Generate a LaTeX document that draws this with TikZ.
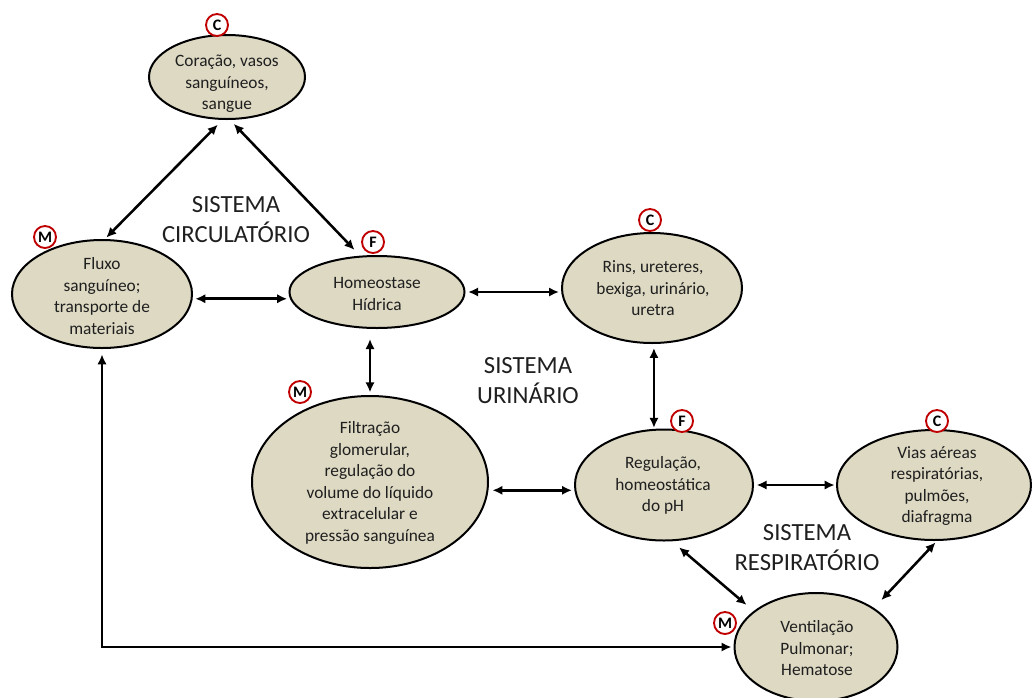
\documentclass[tikz,border=0pt]{standalone}
\usepackage{fontspec}
\setmainfont{Carlito}
\usetikzlibrary{arrows.meta,shapes.geometric}
\definecolor{organ}{HTML}{DDD9C3}
\definecolor{badgered}{HTML}{C00000}
\definecolor{ink}{HTML}{1F1F1F}

\begin{document}
\begin{tikzpicture}[x=0.75pt,y=-0.75pt,
  blob/.style 2 args={ellipse, draw=black, line width=1.5pt, fill=organ, inner sep=0pt,
    minimum width=#1*0.75pt, minimum height=#2*0.75pt},
  lbl/.style={align=center, inner sep=0pt, text=ink, font=\fontsize{13}{16.1}\selectfont},
  sys/.style={align=center, inner sep=0pt, text=ink, font=\fontsize{18.5}{22.5}\selectfont},
  badge/.style={circle, draw=badgered, line width=1.4pt, fill=white, minimum size=16.5pt,
    inner sep=0pt, font=\bfseries\fontsize{12}{12}\selectfont},
  link/.style={{Latex[length=7.5pt,width=7pt]}-{Latex[length=7.5pt,width=7pt]}, line width=1.9pt},
]
\useasboundingbox (0,0) rectangle (1032,697);

% organs / processes
\node[blob={156}{84}]  (cor)   at (227,77)  {};
\node[blob={180}{108}] (flux)  at (102,294) {};
\node[blob={175}{72}]  (homeo) at (377,292) {};
\node[blob={180}{110}] (rins)  at (652,288) {};
\node[blob={236}{172}] (filt)  at (370,482) {};
\node[blob={178}{111}] (reg)   at (664,485) {};
\node[blob={194}{110}] (vias)  at (934,485) {};
\node[blob={163}{108}] (vent)  at (816,647) {};

% texts inside the ellipses
\node[lbl] (corT)   at (227,84)  {Coração, vasos\\sanguíneos,\\sangue};
\node[lbl] (fluxT)  at (102,296) {Fluxo\\sanguíneo;\\transporte de\\materiais};
\node[lbl] (homeoT) at (377,294) {Homeostase\\Hídrica};
\node[lbl] (rinsT)  at (653,288.5) {Rins, ureteres,\\bexiga, urinário,\\uretra};
\node[lbl] (filtT)  at (370,483) {Filtração\\glomerular,\\regulação do\\volume do líquido\\extracelular e\\pressão sanguínea};
\node[lbl] (regT)   at (663,485.5) {Regulação,\\homeostática\\do pH};
\node[lbl] (viasT)  at (937,486) {Vias aéreas\\respiratórias,\\pulmões,\\diafragma};
\node[lbl] (ventT)  at (817,648.5) {Ventilação\\Pulmonar;\\Hematose};

% system names
\node[sys] (sc) at (236,220)   {SISTEMA\\CIRCULATÓRIO};
\node[sys] (su) at (528,380.5) {SISTEMA\\URINÁRIO};
\node[sys] (sr) at (807,547.5) {SISTEMA\\RESPIRATÓRIO};

% connectors
\draw[link, shorten <=5pt, shorten >=1.5pt] (cor.264) -- (flux.87);
\draw[link, shorten <=4pt, shorten >=6pt] (cor.274) -- (homeo.115);
\draw[link, shorten <=2pt, shorten >=1pt] (flux.-3) -- (flux.-3 -| homeo.west);
\draw[link, shorten <=2pt, shorten >=1.5pt] (homeo.east) -- (homeo.east -| rins.west);
\draw[link, shorten <=7.5pt, shorten >=2pt] (homeo.south -| filt.north) -- (filt.north);
\draw[link, shorten <=3pt, shorten >=0.5pt] (rins.-88) -- (rins.-88 |- reg.north);
\draw[link, shorten <=3pt, shorten >=1.5pt] (filt.-4) -- (filt.-4 -| reg.west);
\draw[link, shorten <=2pt, shorten >=1pt] (reg.east) -- (reg.east -| vias.west);
\draw[link, shorten <=7pt, shorten >=7pt] (reg.278) -- (vent.150);
\draw[link, shorten <=1.5pt, shorten >=8pt] (vias.273) -- (vent.34);
\draw[link, shorten <=4pt, shorten >=1.5pt] (flux.south) |- (vent.west);

% badges: C = component, F = function, M = mechanism
\node[badge] (bcor)   at (217,25)  {C};
\node[badge] (bflux)  at (45,237)  {M};
\node[badge] (bhomeo) at (373,242) {F};
\node[badge] (brins)  at (650,220) {C};
\node[badge] (bfilt)  at (300,392) {M};
\node[badge] (breg)   at (682,421) {F};
\node[badge] (bvias)  at (937,421) {C};
\node[badge] (bvent)  at (725,623) {M};
\end{tikzpicture}
\end{document}
